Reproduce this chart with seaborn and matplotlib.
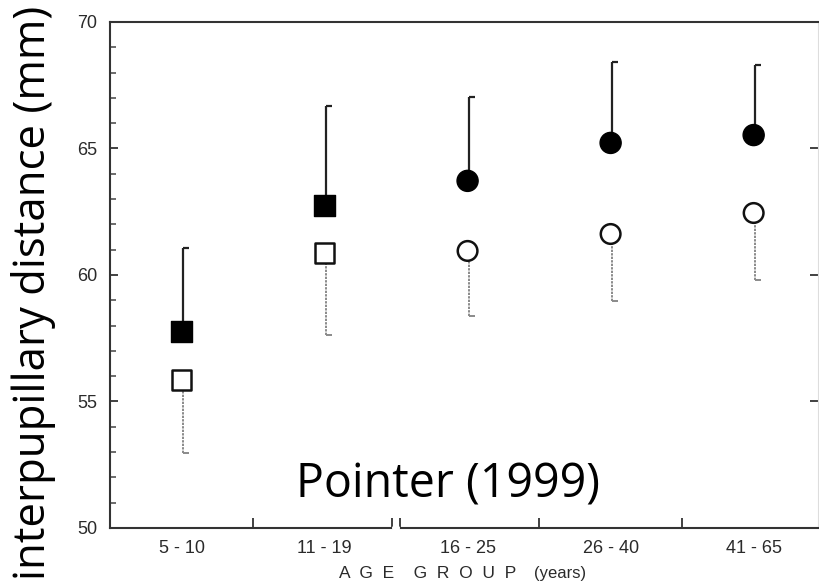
import numpy as np
import pandas as pd
import matplotlib
matplotlib.use("Agg")
import matplotlib.pyplot as plt
import seaborn as sns

# values (Pointer 1999)
age_groups = ["5 - 10", "11 - 19", "16 - 25", "26 - 40", "41 - 65"]
shapes = ["s", "s", "o", "o", "o"]
male_mean = [57.75, 62.73, 63.72, 65.22, 65.53]
male_upper = [61.07, 66.68, 67.04, 68.42, 68.30]
female_mean = [55.85, 60.87, 60.95, 61.62, 62.45]
female_lower = [52.96, 57.63, 58.38, 58.97, 59.80]

df = pd.DataFrame({
    "pos": np.arange(len(age_groups)),
    "group": age_groups,
    "shape": shapes,
    "male": male_mean,
    "male_hi": male_upper,
    "female": female_mean,
    "female_lo": female_lower,
})

sns.set_style("ticks")
plt.rcParams["font.family"] = ["Liberation Sans", "DejaVu Sans"]

fig = plt.figure(figsize=(8.19, 5.86), dpi=100)
ax = fig.add_axes([0.1343, 0.099, 0.8645, 0.8635])

half_cap = [(0, 0), (1, 0)]

# one-sided bars: up for males, down for females
ax.vlines(df["pos"] + 0.01, df["male"], df["male_hi"], color="#222222", lw=1.6, zorder=2)
ax.plot(df["pos"] + 0.01, df["male_hi"], ls="none", marker=half_cap, ms=8,
        mew=1.6, color="#222222", zorder=2)
ax.vlines(df["pos"] + 0.01, df["female_lo"], df["female"], color="#8a8a8a", lw=1.4,
          linestyles=(0, (1.2, 0.6)), zorder=2)
ax.plot(df["pos"] + 0.01, df["female_lo"], ls="none", marker=half_cap, ms=8,
        mew=1.4, color="#8a8a8a", zorder=2)

mk = {"s": "s", "o": "o"}
sns.scatterplot(data=df, x="pos", y="male", style="shape", markers=mk, s=230,
                color="black", edgecolor="black", linewidth=1, legend=False,
                ax=ax, zorder=3)
sns.scatterplot(data=df, x="pos", y="female", style="shape", markers=mk, s=200,
                facecolor="white", edgecolor="#111111", linewidth=1.8, legend=False,
                ax=ax, zorder=3)

ax.set_xlim(-0.5, 4.45)
ax.set_ylim(50, 70)

ax.set_xticks([0.5, 1.47, 1.53, 2.5, 3.5])
ax.set_xticklabels([])
ax.set_xticks(df["pos"], minor=True)
ax.set_xticklabels(age_groups, minor=True)
ax.set_yticks(np.arange(50, 71, 5))
ax.set_yticks(np.arange(50, 71, 1), minor=True)

ax.tick_params(axis="x", which="major", direction="in", length=7, width=1.3, color="#333333")
ax.tick_params(axis="x", which="minor", length=0, pad=9, labelsize=13, labelcolor="#2a2a2a")
ax.tick_params(axis="y", which="major", direction="in", length=6, width=1.3,
               right=True, pad=9, labelsize=13, labelcolor="#2a2a2a", color="#333333")
ax.tick_params(axis="y", which="minor", direction="in", length=4, width=1.1,
               right=False, color="#444444")

for side in ["left", "bottom", "top"]:
    ax.spines[side].set_visible(True)
    ax.spines[side].set_linewidth(1.5)
    ax.spines[side].set_color("#333333")
ax.spines["right"].set_linewidth(0.8)
ax.spines["right"].set_color("#dddddd")

# small break in the x axis between 11-19 and 16-25
ax.plot([1.485, 1.515], [50, 50], color="white", lw=3, clip_on=False, zorder=5)

ax.set_xlabel("")
ax.set_ylabel("")

fig.text(0.522, 0.021, "A  G  E    G  R  O  U  P", fontsize=12.5, color="#2a2a2a",
         ha="center", va="center")
fig.text(0.684, 0.021, "(years)", fontsize=12, color="#2a2a2a",
         ha="center", va="center")
fig.text(0.014, 0.5, "interpupillary distance (mm)", rotation=90, fontsize=31.5,
         color="black", family=["Open Sans", "DejaVu Sans"], ha="left", va="center")
ax.text(0.8, 51.2, "Pointer (1999)", fontsize=33.5, color="black",
        family=["Open Sans", "DejaVu Sans"], ha="left", va="baseline")

fig.savefig("out.png", dpi=100)
